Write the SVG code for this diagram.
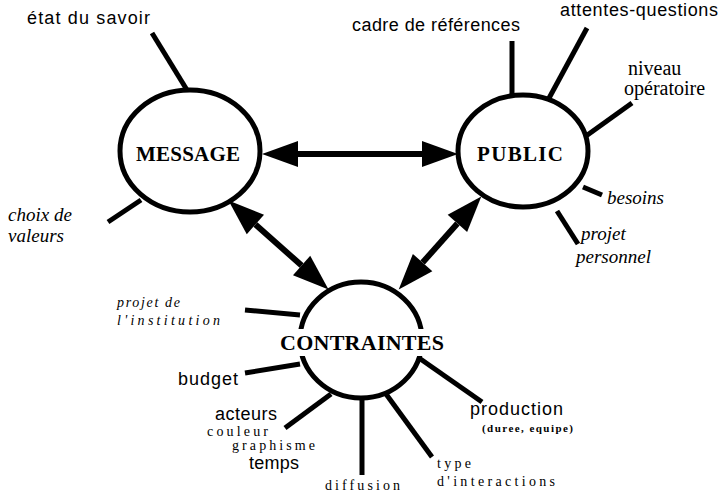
<svg xmlns="http://www.w3.org/2000/svg" width="725" height="501" viewBox="0 0 725 501">
  <style>
    .node { fill: #fff; stroke: #000; stroke-width: 5; }
    .spoke { stroke: #000; stroke-width: 5; stroke-linecap: butt; fill: none; }
    .link { stroke: #000; stroke-width: 6; fill: none; }
    .title { font-family: "Liberation Serif", serif; font-weight: bold; fill: #000; }
    .sans { font-family: "Liberation Sans", sans-serif; font-size: 18px; fill: #000; }
    .serif { font-family: "Liberation Serif", serif; font-size: 20px; fill: #000; }
    .ital { font-family: "Liberation Serif", serif; font-style: italic; font-size: 19px; fill: #000; }
    .small { font-family: "Liberation Serif", serif; font-size: 14px; letter-spacing: 2px; fill: #000; }
    .smallit { font-family: "Liberation Serif", serif; font-style: italic; font-size: 14px; letter-spacing: 2px; fill: #000; }
    .tiny { font-family: "Liberation Serif", serif; font-weight: bold; font-size: 11px; fill: #000; }
  </style>
  <defs>
    <marker id="head" viewBox="-1 -15 40 30" markerUnits="userSpaceOnUse" markerWidth="40" markerHeight="30" refX="0" refY="0" orient="auto-start-reverse">
      <path d="M0,-13 L36,0 L0,13 Z" fill="#000"/>
    </marker>
  </defs>

  <!-- spokes around the three nodes -->
  <g id="spokes">
    <line class="spoke" x1="152" y1="33" x2="187" y2="90"/>
    <line class="spoke" x1="108" y1="222" x2="141" y2="200"/>
    <line class="spoke" x1="512" y1="41" x2="512" y2="95"/>
    <line class="spoke" x1="587" y1="28" x2="548" y2="100"/>
    <line class="spoke" x1="632" y1="103" x2="586" y2="136"/>
    <line class="spoke" x1="583" y1="187" x2="602" y2="195"/>
    <line class="spoke" x1="557" y1="211" x2="578" y2="244"/>
    <line class="spoke" x1="245" y1="310" x2="300" y2="315"/>
    <line class="spoke" x1="245" y1="373" x2="300" y2="364"/>
    <line class="spoke" x1="285" y1="428" x2="331" y2="394"/>
    <line class="spoke" x1="362" y1="398" x2="362" y2="475"/>
    <line class="spoke" x1="386" y1="394" x2="432" y2="457"/>
    <line class="spoke" x1="419" y1="358" x2="482" y2="402"/>
  </g>

  <g id="message">
    <ellipse class="node" cx="190" cy="151" rx="70" ry="61"/>
    <text class="title" x="188" y="161" font-size="21" text-anchor="middle" textLength="104">MESSAGE</text>
  </g>

  <g id="public">
    <ellipse class="node" cx="523" cy="151" rx="65" ry="56"/>
    <text class="title" x="520" y="161" font-size="21" text-anchor="middle" textLength="86">PUBLIC</text>
  </g>

  <g id="contraintes">
    <ellipse class="node" cx="361" cy="340" rx="61" ry="58"/>
    <rect x="278" y="329" width="170" height="27" fill="#fff"/>
    <text class="title" x="362" y="350" font-size="22" text-anchor="middle" textLength="164">CONTRAINTES</text>
  </g>

  <!-- double-headed links between the nodes -->
  <g id="connectors">
    <line class="link" x1="298" y1="154" x2="422" y2="154" marker-start="url(#head)" marker-end="url(#head)"/>
    <line class="link" x1="255.4" y1="224.5" x2="301.6" y2="265.5" marker-start="url(#head)" marker-end="url(#head)"/>
    <line class="link" x1="457.4" y1="223.4" x2="422.6" y2="262.6" marker-start="url(#head)" marker-end="url(#head)"/>
  </g>

  <!-- labels -->
  <g id="labels">
    <text class="sans" x="27" y="24" textLength="123">état du savoir</text>
    <text class="ital" x="8" y="221">choix de</text>
    <text class="ital" x="8" y="242">valeurs</text>

    <text class="sans" x="352" y="31" textLength="168">cadre de références</text>
    <text class="sans" x="560" y="16" textLength="158">attentes-questions</text>
    <text class="serif" x="628" y="75">niveau</text>
    <text class="serif" x="624" y="95">opératoire</text>
    <text class="ital" x="607" y="204">besoins</text>
    <text class="ital" x="581" y="240">projet</text>
    <text class="ital" x="576" y="263">personnel</text>

    <text class="smallit" x="117" y="307" textLength="65">projet de</text>
    <text class="smallit" x="117" y="325" textLength="105">l'institution</text>
    <text class="sans" x="178" y="385" font-size="19" textLength="60">budget</text>
    <text class="sans" x="215" y="420" font-size="19" textLength="62">acteurs</text>
    <text class="small" x="207" y="436" textLength="63">couleur</text>
    <text class="small" x="232" y="450" font-size="13" textLength="85">graphisme</text>
    <text class="sans" x="249" y="469" font-size="18" textLength="50">temps</text>
    <text class="small" x="325" y="490" textLength="77">diffusion</text>
    <text class="small" x="437" y="468" textLength="36">type</text>
    <text class="small" x="437" y="486" textLength="120">d'interactions</text>
    <text class="sans" x="470" y="415" font-size="20" textLength="93">production</text>
    <text class="tiny" x="482" y="432" textLength="91">(duree, equipe)</text>
  </g>
</svg>
